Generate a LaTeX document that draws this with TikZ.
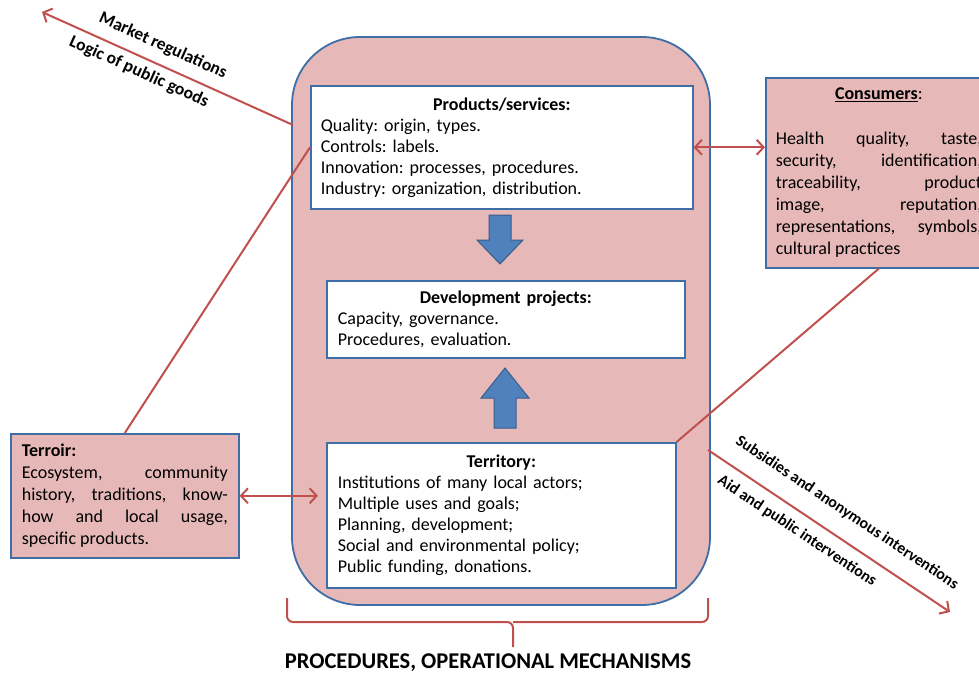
\documentclass[tikz,border=0pt]{standalone}
\usepackage{fontspec}
\setmainfont{Carlito}
\frenchspacing
\usetikzlibrary{arrows.meta}
\definecolor{pinkf}{HTML}{E6B9B8}
\definecolor{bluebd}{HTML}{3F6DA6}
\definecolor{redl}{HTML}{C0504D}
\definecolor{bluef}{HTML}{4F81BD}
\definecolor{bluefd}{HTML}{385D8A}
\tikzset{
  box/.style={draw=bluebd, line width=1.6pt, fill=white, anchor=north west, inner ysep=0pt, align=left,
    font=\fontsize{18}{21}\selectfont},
  pbox/.style={box, fill=pinkf, font=\fontsize{18}{22}\selectfont},
  conn/.style={draw=redl, line width=2pt},
  tip/.style={-{Straight Barb[length=7pt,width=15pt,line width=2pt]}},
  dtip/.style={{Straight Barb[length=7pt,width=15pt,line width=2pt]}-{Straight Barb[length=7pt,width=15pt,line width=2pt]}},
  blk/.style={fill=bluef, draw=bluefd, line width=1pt},
  lab/.style={font=\bfseries\fontsize{17.5}{20}\selectfont, inner sep=0pt},
  labs/.style={font=\bfseries\fontsize{16}{20}\selectfont, inner sep=0pt},
}
\newcommand{\ttl}[1]{\makebox[\linewidth]{\textbf{#1}}\\}
\begin{document}
\begin{tikzpicture}[x=1pt,y=-1pt]
\useasboundingbox (0,0) rectangle (979,674);
% big rounded container
\node[draw=bluebd, line width=1.8pt, fill=pinkf, rounded corners=68pt, minimum width=418pt, minimum height=568pt, inner sep=0pt] (main) at (501,321) {};
% boxes
\node[box, minimum width=382pt, minimum height=123pt, inner xsep=10pt, text width=362pt] (prod) at (310,85)
 {\ttl{Products/services:}Quality: origin, types.\\Controls: labels.\\Innovation: processes, procedures.\\Industry: organization, distribution.};
\node[box, minimum width=358pt, minimum height=77pt, inner xsep=11pt, text width=336pt] (dev) at (326,280)
 {\ttl{Development projects:}Capacity, governance.\\Procedures, evaluation.};
\node[box, minimum width=349pt, minimum height=145pt, inner xsep=11pt, text width=327pt] (terr) at (326,442)
 {\ttl{Territory:}Institutions of many local actors;\\Multiple uses and goals;\\Planning, development;\\Social and environmental policy;\\Public funding, donations.};
\node[pbox, minimum width=226pt, minimum height=190pt, inner xsep=10pt, text width=206pt, align=justify] (cons) at (765,77)
 {\makebox[\linewidth]{\underline{\textbf{Consumers}}:}\\[23pt]Health quality, taste,\linebreak security, identification,\linebreak traceability, product\linebreak image, reputation,\linebreak representations, symbols,\linebreak cultural practices};
\node[pbox, minimum width=228pt, minimum height=124pt, inner xsep=11pt, text width=206pt, align=justify] (terroir) at (10,433)
 {\textbf{Terroir:}\\Ecosystem, community\linebreak history, traditions, know-\linebreak how and local usage,\linebreak specific products.};
% blue block arrows
\draw[blk] (489,215) -- (511,215) -- (511,240) -- (523,240) -- (500,264) -- (477,240) -- (489,240) -- cycle;
\draw[blk] (494,428) -- (516,428) -- (516,398) -- (529,398) -- (505,368) -- (481,398) -- (494,398) -- cycle;
% connectors
\draw[conn] (prod.west) -- (terroir.north);
\draw[conn] (cons.south) -- (terr.north east);
\draw[conn, dtip] (prod.east) -- (prod.east -| cons.west);
\draw[conn, dtip, shorten >=8pt] (terroir.east) -- (terroir.east -| terr.west);
\coordinate (ulA) at (293,125);
\coordinate (ulB) at (42,12);
\draw[conn, tip] (ulA) -- (ulB);
\coordinate (lrA) at (708,450);
\coordinate (lrB) at (950,612);
\draw[conn, tip] (lrA) -- (lrB);
\node[lab, rotate=-24.3] (mreg) at (163,46) {Market regulations};
\node[lab, rotate=-24.3] (logic) at (139,72) {Logic of public goods};
\node[labs, rotate=-33.7] (subs) at (847,513) {Subsidies and anonymous interventions};
\node[labs, rotate=-33.7] (aid) at (797,531) {Aid and public interventions};
% brace
\draw[conn, rounded corners=6pt] (287,598) |- (513,622) -- (513,647);
\draw[conn, rounded corners=6pt] (708,598) |- (513,622);
\node[font=\bfseries\fontsize{22.5}{24}\selectfont, inner sep=0pt] (proc) at (488,663) {PROCEDURES, OPERATIONAL MECHANISMS};
\end{tikzpicture}
\end{document}
